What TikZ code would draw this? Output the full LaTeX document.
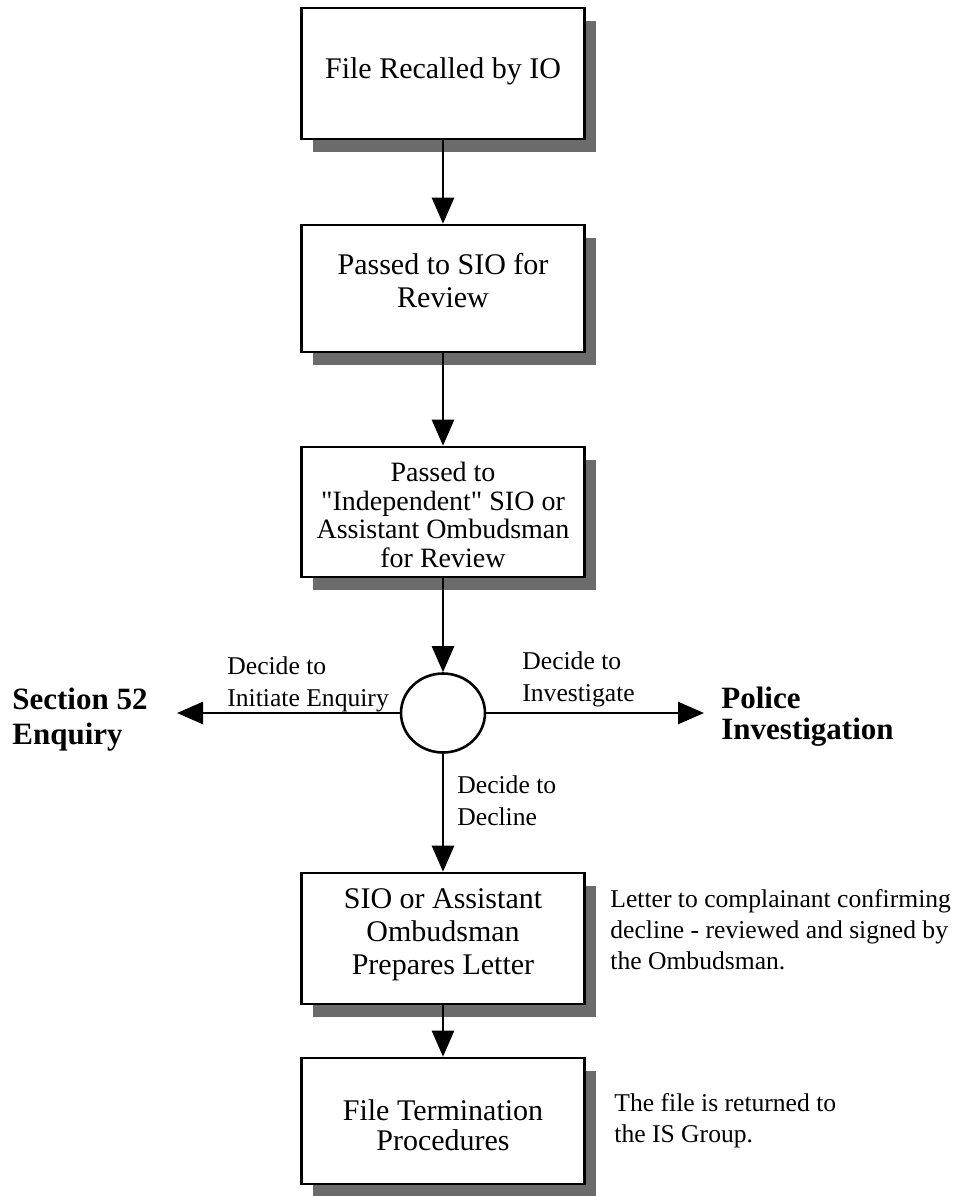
\documentclass[tikz,border=0pt]{standalone}
\usepackage{fontspec}
\setmainfont{Liberation Serif}[Ligatures=TeXOff]
\usetikzlibrary{arrows.meta,shadows,shapes.geometric}
\begin{document}
\begin{tikzpicture}[x=0.5pt,y=-0.5pt,
  box/.style={draw=black, line width=1.3pt, fill=white, minimum width=141.5pt,
    inner sep=0pt,
    drop shadow={shadow xshift=5.5pt, shadow yshift=-6.5pt, fill=black!58, opacity=1}},
  boxtext/.style={align=center, inner sep=0pt, font=\fontsize{15}{16.5}\selectfont},
  decision/.style={ellipse, draw=black, line width=1.3pt, fill=white, inner sep=0pt,
    minimum width=42pt, minimum height=39.5pt},
  arr/.style={line width=1.3pt, -{Triangle[length=13pt,width=11pt]}},
  lbl/.style={anchor=west, align=left, inner sep=0pt, font=\fontsize{12.8}{16}\selectfont},
  endlbl/.style={anchor=west, align=left, inner sep=0pt, font=\bfseries\fontsize{15.5}{17.5}\selectfont},
  note/.style={anchor=west, align=left, inner sep=0pt, font=\fontsize{12.8}{15.5}\selectfont}
]
\fill[white] (0,0) rectangle (959,1196);
\useasboundingbox (0,0) rectangle (959,1196);

\node[box, minimum height=65.5pt,
  label={[boxtext, name=t1, yshift=1pt]center:{File Recalled by IO}}] (b1) at (443,73.5) {};
\node[box, minimum height=63.5pt,
  label={[boxtext, name=t2, yshift=4pt]center:{Passed to SIO for\\Review}}] (b2) at (443,288.5) {};
\node[box, minimum height=65pt,
  label={[boxtext, name=t3, yshift=-1.5pt, font=\fontsize{14}{14.2}\selectfont]center:{Passed to\\"Independent" SIO or\\Assistant Ombudsman\\for Review}}] (b3) at (443,512) {};
\node[decision] (c) at (443,713) {};
\node[box, minimum height=65.5pt,
  label={[boxtext, name=t4, yshift=2pt]center:{SIO or Assistant\\Ombudsman\\Prepares Letter}}] (b4) at (443,938.5) {};
\node[box, minimum height=63pt,
  label={[boxtext, name=t5, yshift=-2pt, font=\fontsize{15}{15.2}\selectfont]center:{File Termination\\Procedures}}] (b5) at (443,1121) {};

\node[endlbl] (s52) at (12,720) {Section 52\\Enquiry};
\node[endlbl, font=\bfseries\fontsize{15.5}{15.5}\selectfont] (pol) at (721,717) {Police\\Investigation};
\coordinate (lt) at (177,713);
\coordinate (rt) at (704,713);

\node[lbl] (l1) at (227,684) {Decide to\\Initiate Enquiry};
\node[lbl] (l2) at (522,679) {Decide to\\Investigate};
\node[lbl] (l3) at (457,801) {Decide to\\Decline};

\node[note] (n1) at (610,930) {Letter to complainant confirming\\decline - reviewed and signed by\\the Ombudsman.};
\node[note] (n2) at (614,1121) {The file is returned to\\the IS Group.};

\draw[arr] (b1) -- (b2);
\draw[arr] (b2) -- (b3);
\draw[arr] (b3) -- (c);
\draw[arr] (c) -- (b4);
\draw[arr] (b4) -- (b5);
\draw[arr] (c.west) -- (lt);
\draw[arr] (c.east) -- (rt);
\end{tikzpicture}
\end{document}
